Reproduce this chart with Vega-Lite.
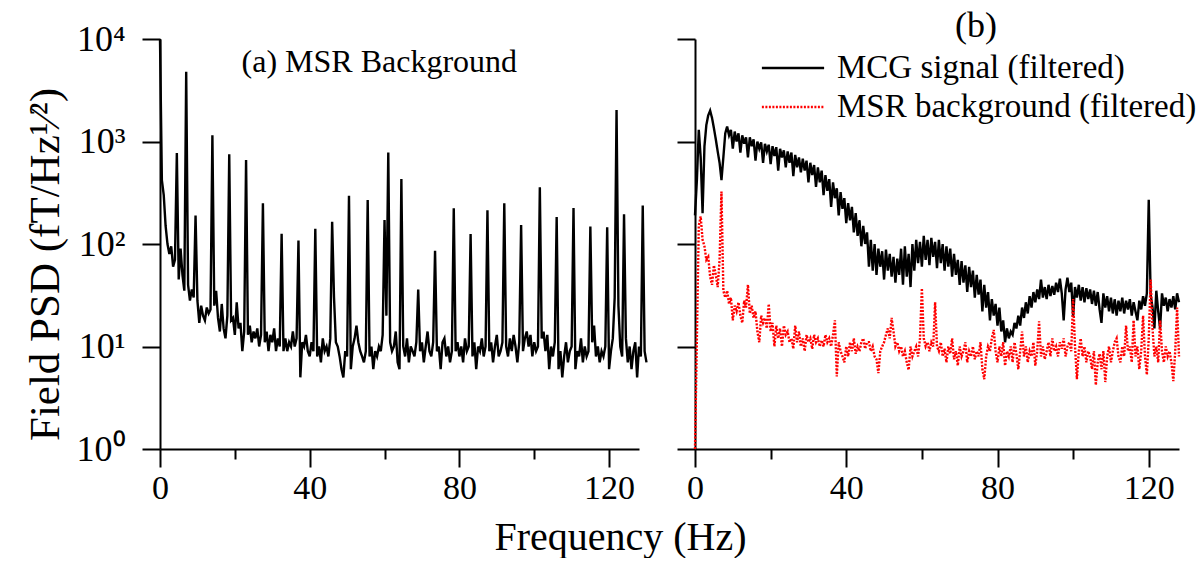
{
  "$schema": "https://vega.github.io/schema/vega-lite/v6.json",
  "background": "white",
  "padding": {"left": 24, "top": 8, "right": 0, "bottom": 0},
  "spacing": 24,
  "config": {
    "view": {"stroke": null},
    "font": "Liberation Serif",
    "axis": {"grid": false, "domainColor": "black", "domainWidth": 2, "tickColor": "black", "tickWidth": 2, "labelColor": "black", "titleColor": "black", "labelFont": "Liberation Serif", "titleFont": "Liberation Serif", "titleFontWeight": "normal", "labelFlush": false, "labelOverlap": false}
  },
  "title": {"text": "Frequency (Hz)", "orient": "bottom", "anchor": "middle", "fontSize": 40, "font": "Liberation Serif", "fontWeight": "normal", "color": "black", "offset": 13, "dx": 10},
  "hconcat": [
    {
      "width": 479,
      "height": 410,
      "layer": [
        {
          "data": {"values": [
            {"hz":0,"psd":10000},{"hz":0.5,"psd":420},{"hz":1,"psd":300},{"hz":1.5,"psd":150},{"hz":2,"psd":100},{"hz":2.5,"psd":80},{"hz":3,"psd":95},{"hz":3.5,"psd":60},{"hz":4,"psd":70},{"hz":4.5,"psd":770},
            {"hz":5,"psd":45},{"hz":5.5,"psd":90},{"hz":6,"psd":50},{"hz":6.5,"psd":35},{"hz":7,"psd":4800},{"hz":7.5,"psd":40},{"hz":8,"psd":28},{"hz":8.5,"psd":36},{"hz":9,"psd":30},{"hz":9.5,"psd":190},
            {"hz":10,"psd":28},{"hz":10.5,"psd":17},{"hz":11,"psd":25},{"hz":11.5,"psd":20},{"hz":12,"psd":18},{"hz":12.5,"psd":24},{"hz":13,"psd":21},{"hz":13.5,"psd":23},{"hz":14,"psd":1150},{"hz":14.5,"psd":25},
            {"hz":15,"psd":35},{"hz":15.5,"psd":19},{"hz":16,"psd":14},{"hz":16.5,"psd":26},{"hz":17,"psd":15},{"hz":17.5,"psd":12},{"hz":18,"psd":20},{"hz":18.5,"psd":750},{"hz":19,"psd":18},{"hz":19.5,"psd":19},
            {"hz":20,"psd":13},{"hz":20.5,"psd":27},{"hz":21,"psd":15},{"hz":21.5,"psd":17},{"hz":22,"psd":9},{"hz":22.5,"psd":14},{"hz":23,"psd":660},{"hz":23.5,"psd":13},{"hz":24,"psd":16},{"hz":24.5,"psd":11},
            {"hz":25,"psd":14},{"hz":25.5,"psd":12},{"hz":26,"psd":15},{"hz":26.5,"psd":10},{"hz":27,"psd":13},{"hz":27.5,"psd":250},{"hz":28,"psd":11},{"hz":28.5,"psd":14},{"hz":29,"psd":9},{"hz":29.5,"psd":13},
            {"hz":30,"psd":11},{"hz":30.5,"psd":15},{"hz":31,"psd":9},{"hz":31.5,"psd":12},{"hz":32,"psd":10},{"hz":32.5,"psd":126},{"hz":33,"psd":9},{"hz":33.5,"psd":12},{"hz":34,"psd":9},{"hz":34.5,"psd":11},
            {"hz":35,"psd":10},{"hz":35.5,"psd":14},{"hz":36,"psd":10},{"hz":36.5,"psd":12},{"hz":37,"psd":108},{"hz":37.5,"psd":5},{"hz":38,"psd":11},{"hz":38.5,"psd":10},{"hz":39,"psd":13},{"hz":39.5,"psd":9},
            {"hz":40,"psd":8},{"hz":40.5,"psd":11},{"hz":41,"psd":9},{"hz":41.5,"psd":141},{"hz":42,"psd":8},{"hz":42.5,"psd":10},{"hz":43,"psd":7},{"hz":43.5,"psd":12},{"hz":44,"psd":9},{"hz":44.5,"psd":10},
            {"hz":45,"psd":8},{"hz":45.5,"psd":12},{"hz":46,"psd":165},{"hz":46.5,"psd":30},{"hz":47,"psd":11},{"hz":47.5,"psd":10},{"hz":48,"psd":8},{"hz":48.5,"psd":6},{"hz":49,"psd":5},{"hz":49.5,"psd":9},
            {"hz":50,"psd":8},{"hz":50.5,"psd":295},{"hz":51,"psd":6},{"hz":51.5,"psd":10},{"hz":52,"psd":12},{"hz":52.5,"psd":16},{"hz":53,"psd":11},{"hz":53.5,"psd":9},{"hz":54,"psd":8},{"hz":54.5,"psd":7},
            {"hz":55,"psd":9},{"hz":55.5,"psd":268},{"hz":56,"psd":8},{"hz":56.5,"psd":10},{"hz":57,"psd":6},{"hz":57.5,"psd":9},{"hz":58,"psd":8},{"hz":58.5,"psd":10},{"hz":59,"psd":9},{"hz":59.5,"psd":13},
            {"hz":60,"psd":171},{"hz":60.5,"psd":20},{"hz":61,"psd":780},{"hz":61.5,"psd":11},{"hz":62,"psd":9},{"hz":62.5,"psd":10},{"hz":63,"psd":14},{"hz":63.5,"psd":7},{"hz":64,"psd":6},{"hz":64.5,"psd":430},
            {"hz":65,"psd":10},{"hz":65.5,"psd":8},{"hz":66,"psd":12},{"hz":66.5,"psd":7},{"hz":67,"psd":10},{"hz":67.5,"psd":9},{"hz":68,"psd":8},{"hz":68.5,"psd":11},{"hz":69,"psd":36},{"hz":69.5,"psd":9},
            {"hz":70,"psd":11},{"hz":70.5,"psd":7},{"hz":71,"psd":10},{"hz":71.5,"psd":14},{"hz":72,"psd":9},{"hz":72.5,"psd":8},{"hz":73,"psd":11},{"hz":73.5,"psd":86},{"hz":74,"psd":9},{"hz":74.5,"psd":10},
            {"hz":75,"psd":6},{"hz":75.5,"psd":11},{"hz":76,"psd":12},{"hz":76.5,"psd":8},{"hz":77,"psd":10},{"hz":77.5,"psd":7},{"hz":78,"psd":9},{"hz":78.5,"psd":223},{"hz":79,"psd":9},{"hz":79.5,"psd":11},
            {"hz":80,"psd":8},{"hz":80.5,"psd":10},{"hz":81,"psd":7},{"hz":81.5,"psd":12},{"hz":82,"psd":9},{"hz":82.5,"psd":10},{"hz":83,"psd":125},{"hz":83.5,"psd":8},{"hz":84,"psd":11},{"hz":84.5,"psd":6},
            {"hz":85,"psd":10},{"hz":85.5,"psd":9},{"hz":86,"psd":12},{"hz":86.5,"psd":8},{"hz":87,"psd":10},{"hz":87.5,"psd":213},{"hz":88,"psd":9},{"hz":88.5,"psd":11},{"hz":89,"psd":7},{"hz":89.5,"psd":10},
            {"hz":90,"psd":13},{"hz":90.5,"psd":8},{"hz":91,"psd":9},{"hz":91.5,"psd":11},{"hz":92,"psd":250},{"hz":92.5,"psd":10},{"hz":93,"psd":8},{"hz":93.5,"psd":12},{"hz":94,"psd":9},{"hz":94.5,"psd":13},
            {"hz":95,"psd":10},{"hz":95.5,"psd":7},{"hz":96,"psd":11},{"hz":96.5,"psd":153},{"hz":97,"psd":9},{"hz":97.5,"psd":12},{"hz":98,"psd":14},{"hz":98.5,"psd":10},{"hz":99,"psd":13},{"hz":99.5,"psd":8},
            {"hz":100,"psd":11},{"hz":100.5,"psd":9},{"hz":101,"psd":10},{"hz":101.5,"psd":357},{"hz":102,"psd":12},{"hz":102.5,"psd":14},{"hz":103,"psd":9},{"hz":103.5,"psd":13},{"hz":104,"psd":6},{"hz":104.5,"psd":10},
            {"hz":105,"psd":8},{"hz":105.5,"psd":11},{"hz":106,"psd":183},{"hz":106.5,"psd":6},{"hz":107,"psd":9},{"hz":107.5,"psd":5},{"hz":108,"psd":8},{"hz":108.5,"psd":11},{"hz":109,"psd":7},{"hz":109.5,"psd":9},
            {"hz":110,"psd":10},{"hz":110.5,"psd":224},{"hz":111,"psd":6},{"hz":111.5,"psd":9},{"hz":112,"psd":8},{"hz":112.5,"psd":12},{"hz":113,"psd":7},{"hz":113.5,"psd":10},{"hz":114,"psd":8},{"hz":114.5,"psd":9},
            {"hz":115,"psd":148},{"hz":115.5,"psd":11},{"hz":116,"psd":16},{"hz":116.5,"psd":8},{"hz":117,"psd":10},{"hz":117.5,"psd":7},{"hz":118,"psd":9},{"hz":118.5,"psd":8},{"hz":119,"psd":10},{"hz":119.5,"psd":146},
            {"hz":120,"psd":6},{"hz":120.5,"psd":9},{"hz":121,"psd":12},{"hz":121.5,"psd":30},{"hz":122,"psd":2030},{"hz":122.5,"psd":25},{"hz":123,"psd":10},{"hz":123.5,"psd":8},{"hz":124,"psd":195},{"hz":124.5,"psd":12},
            {"hz":125,"psd":7},{"hz":125.5,"psd":10},{"hz":126,"psd":6},{"hz":126.5,"psd":9},{"hz":127,"psd":11},{"hz":127.5,"psd":5},{"hz":128,"psd":10},{"hz":128.5,"psd":8},{"hz":129,"psd":237},{"hz":129.5,"psd":9},
            {"hz":130,"psd":7}
          ]},
          "mark": {"type": "line", "color": "black", "strokeWidth": 2.4, "clip": false},
          "encoding": {
            "x": {"field": "hz", "type": "quantitative", "scale": {"domain": [0, 128], "nice": false, "zero": false},
              "axis": {"title": null, "values": [0, 20, 40, 60, 80, 100, 120], "labelExpr": "datum.value % 40 === 0 ? datum.label : ''", "tickSize": {"condition": {"test": "datum.value % 40 === 0", "value": 18}, "value": 10}, "labelFontSize": 34, "labelPadding": 4}},
            "y": {"field": "psd", "type": "quantitative", "scale": {"type": "log", "domain": [1, 10000], "nice": false},
              "axis": {"title": "Field PSD (fT/Hz¹⁄²)", "values": [1, 10, 100, 1000, 10000], "labelExpr": "datum.value >= 10000 ? '10⁴' : datum.value >= 1000 ? '10³' : datum.value >= 100 ? '10²' : datum.value >= 10 ? '10¹' : '10⁰'", "tickSize": 18, "labelFontSize": 36, "labelPadding": 17, "titleFontSize": 43, "titlePadding": 9, "titleY": 225}}
          }
        },
        {
          "data": {"values": [{}]},
          "mark": {"type": "text", "text": "(a) MSR Background", "align": "left", "baseline": "alphabetic", "fontSize": 32, "font": "Liberation Serif", "color": "black"},
          "encoding": {"x": {"datum": 21.8}, "y": {"datum": 4764}}
        }
      ]
    },
    {
      "width": 484,
      "height": 410,
      "layer": [
        {
          "data": {"values": [
            {"hz":0,"mcg":190,"msr":1},{"hz":0.5,"mcg":420,"msr":12},{"hz":1,"mcg":1300,"msr":150},{"hz":1.5,"mcg":700,"msr":186},{"hz":2,"mcg":200,"msr":110},{"hz":2.5,"mcg":900,"msr":95},{"hz":3,"mcg":1450,"msr":70},{"hz":3.5,"mcg":1800,"msr":75},{"hz":4,"mcg":2000,"msr":48},{"hz":4.5,"mcg":1700,"msr":40},
            {"hz":5,"mcg":1350,"msr":62},{"hz":5.5,"mcg":1050,"msr":50},{"hz":6,"mcg":800,"msr":38},{"hz":6.5,"mcg":620,"msr":70},{"hz":7,"mcg":420,"msr":325},{"hz":7.5,"mcg":700,"msr":35},{"hz":8,"mcg":1200,"msr":30},{"hz":8.5,"mcg":1400,"msr":35},{"hz":9,"mcg":1150,"msr":26},{"hz":9.5,"mcg":1300,"msr":30},
            {"hz":10,"mcg":850,"msr":18},{"hz":10.5,"mcg":1250,"msr":25},{"hz":11,"mcg":1000,"msr":22},{"hz":11.5,"mcg":1200,"msr":27},{"hz":12,"mcg":780,"msr":20},{"hz":12.5,"mcg":1150,"msr":17},{"hz":13,"mcg":950,"msr":28},{"hz":13.5,"mcg":1100,"msr":24},{"hz":14,"mcg":700,"msr":40},{"hz":14.5,"mcg":1100,"msr":21},
            {"hz":15,"mcg":900,"msr":25},{"hz":15.5,"mcg":1050,"msr":19},{"hz":16,"mcg":650,"msr":22},{"hz":16.5,"mcg":1000,"msr":14},{"hz":17,"mcg":850,"msr":11},{"hz":17.5,"mcg":980,"msr":20},{"hz":18,"mcg":620,"msr":17},{"hz":18.5,"mcg":950,"msr":19},{"hz":19,"mcg":800,"msr":15},{"hz":19.5,"mcg":930,"msr":26},
            {"hz":20,"mcg":600,"msr":14},{"hz":20.5,"mcg":900,"msr":17},{"hz":21,"mcg":720,"msr":10},{"hz":21.5,"mcg":880,"msr":16},{"hz":22,"mcg":520,"msr":12},{"hz":22.5,"mcg":850,"msr":15},{"hz":23,"mcg":700,"msr":10},{"hz":23.5,"mcg":820,"msr":16},{"hz":24,"mcg":560,"msr":13},{"hz":24.5,"mcg":800,"msr":14},
            {"hz":25,"mcg":620,"msr":11},{"hz":25.5,"mcg":780,"msr":12},{"hz":26,"mcg":460,"msr":9.5},{"hz":26.5,"mcg":740,"msr":16},{"hz":27,"mcg":560,"msr":11},{"hz":27.5,"mcg":700,"msr":14},{"hz":28,"mcg":500,"msr":10},{"hz":28.5,"mcg":680,"msr":12},{"hz":29,"mcg":520,"msr":9},{"hz":29.5,"mcg":650,"msr":13},
            {"hz":30,"mcg":400,"msr":11},{"hz":30.5,"mcg":620,"msr":12},{"hz":31,"mcg":470,"msr":9.5},{"hz":31.5,"mcg":590,"msr":13},{"hz":32,"mcg":360,"msr":11},{"hz":32.5,"mcg":560,"msr":12},{"hz":33,"mcg":400,"msr":10},{"hz":33.5,"mcg":520,"msr":11.5},{"hz":34,"mcg":300,"msr":10},{"hz":34.5,"mcg":470,"msr":13},
            {"hz":35,"mcg":330,"msr":11},{"hz":35.5,"mcg":430,"msr":12},{"hz":36,"mcg":230,"msr":10},{"hz":36.5,"mcg":400,"msr":13},{"hz":37,"mcg":280,"msr":18},{"hz":37.5,"mcg":350,"msr":5.1},{"hz":38,"mcg":190,"msr":11},{"hz":38.5,"mcg":320,"msr":9},{"hz":39,"mcg":220,"msr":8},{"hz":39.5,"mcg":280,"msr":7},
            {"hz":40,"mcg":160,"msr":10},{"hz":40.5,"mcg":250,"msr":8},{"hz":41,"mcg":170,"msr":11},{"hz":41.5,"mcg":230,"msr":9},{"hz":42,"mcg":130,"msr":12},{"hz":42.5,"mcg":200,"msr":8.5},{"hz":43,"mcg":120,"msr":10},{"hz":43.5,"mcg":170,"msr":9},{"hz":44,"mcg":95,"msr":11},{"hz":44.5,"mcg":150,"msr":12},
            {"hz":45,"mcg":100,"msr":9.5},{"hz":45.5,"mcg":130,"msr":11},{"hz":46,"mcg":60,"msr":11},{"hz":46.5,"mcg":110,"msr":9},{"hz":47,"mcg":55,"msr":10},{"hz":47.5,"mcg":100,"msr":8},{"hz":48,"mcg":50,"msr":7.5},{"hz":48.5,"mcg":90,"msr":5.5},{"hz":49,"mcg":60,"msr":9},{"hz":49.5,"mcg":85,"msr":10},
            {"hz":50,"mcg":45,"msr":11},{"hz":50.5,"mcg":88,"msr":13},{"hz":51,"mcg":55,"msr":15},{"hz":51.5,"mcg":80,"msr":12},{"hz":52,"mcg":48,"msr":19},{"hz":52.5,"mcg":75,"msr":14},{"hz":53,"mcg":42,"msr":10},{"hz":53.5,"mcg":72,"msr":11},{"hz":54,"mcg":50,"msr":9},{"hz":54.5,"mcg":90,"msr":10},
            {"hz":55,"mcg":40,"msr":8},{"hz":55.5,"mcg":95,"msr":9},{"hz":56,"mcg":48,"msr":7},{"hz":56.5,"mcg":80,"msr":5.9},{"hz":57,"mcg":38,"msr":10},{"hz":57.5,"mcg":100,"msr":8},{"hz":58,"mcg":55,"msr":9},{"hz":58.5,"mcg":110,"msr":10},{"hz":59,"mcg":65,"msr":8},{"hz":59.5,"mcg":105,"msr":12},
            {"hz":60,"mcg":60,"msr":37},{"hz":60.5,"mcg":120,"msr":12},{"hz":61,"mcg":70,"msr":10},{"hz":61.5,"mcg":110,"msr":11},{"hz":62,"mcg":62,"msr":9},{"hz":62.5,"mcg":115,"msr":11},{"hz":63,"mcg":75,"msr":10},{"hz":63.5,"mcg":105,"msr":27},{"hz":64,"mcg":58,"msr":10},{"hz":64.5,"mcg":110,"msr":9},
            {"hz":65,"mcg":65,"msr":11},{"hz":65.5,"mcg":100,"msr":8},{"hz":66,"mcg":55,"msr":9.5},{"hz":66.5,"mcg":95,"msr":7},{"hz":67,"mcg":60,"msr":10},{"hz":67.5,"mcg":90,"msr":8.5},{"hz":68,"mcg":48,"msr":12},{"hz":68.5,"mcg":80,"msr":7.5},{"hz":69,"mcg":50,"msr":9},{"hz":69.5,"mcg":70,"msr":6.5},
            {"hz":70,"mcg":40,"msr":10},{"hz":70.5,"mcg":68,"msr":8},{"hz":71,"mcg":42,"msr":9},{"hz":71.5,"mcg":62,"msr":11},{"hz":72,"mcg":34,"msr":7},{"hz":72.5,"mcg":60,"msr":9},{"hz":73,"mcg":38,"msr":8},{"hz":73.5,"mcg":55,"msr":10},{"hz":74,"mcg":30,"msr":7.5},{"hz":74.5,"mcg":50,"msr":9},
            {"hz":75,"mcg":32,"msr":8},{"hz":75.5,"mcg":45,"msr":11},{"hz":76,"mcg":22,"msr":6},{"hz":76.5,"mcg":40,"msr":4.8},{"hz":77,"mcg":24,"msr":8},{"hz":77.5,"mcg":34,"msr":10},{"hz":78,"mcg":18,"msr":9},{"hz":78.5,"mcg":29,"msr":12},{"hz":79,"mcg":20,"msr":14.5},{"hz":79.5,"mcg":26,"msr":9},
            {"hz":80,"mcg":16,"msr":7},{"hz":80.5,"mcg":24,"msr":10},{"hz":81,"mcg":14,"msr":8},{"hz":81.5,"mcg":18,"msr":11},{"hz":82,"mcg":11,"msr":6.5},{"hz":82.5,"mcg":15,"msr":9},{"hz":83,"mcg":12,"msr":8},{"hz":83.5,"mcg":14,"msr":10},{"hz":84,"mcg":13,"msr":7},{"hz":84.5,"mcg":17,"msr":11},
            {"hz":85,"mcg":15,"msr":8.5},{"hz":85.5,"mcg":20,"msr":6},{"hz":86,"mcg":16,"msr":9},{"hz":86.5,"mcg":24,"msr":14},{"hz":87,"mcg":19,"msr":8},{"hz":87.5,"mcg":27,"msr":10},{"hz":88,"mcg":21,"msr":7},{"hz":88.5,"mcg":31,"msr":9},{"hz":89,"mcg":24,"msr":8},{"hz":89.5,"mcg":34,"msr":11},
            {"hz":90,"mcg":27,"msr":6.5},{"hz":90.5,"mcg":36,"msr":9},{"hz":91,"mcg":29,"msr":17.6},{"hz":91.5,"mcg":45,"msr":8},{"hz":92,"mcg":30,"msr":10},{"hz":92.5,"mcg":38,"msr":7.5},{"hz":93,"mcg":29,"msr":9},{"hz":93.5,"mcg":40,"msr":11},{"hz":94,"mcg":31,"msr":8},{"hz":94.5,"mcg":39,"msr":12},
            {"hz":95,"mcg":32,"msr":9},{"hz":95.5,"mcg":42,"msr":10},{"hz":96,"mcg":34,"msr":8},{"hz":96.5,"mcg":46,"msr":11},{"hz":97,"mcg":33,"msr":9.5},{"hz":97.5,"mcg":18,"msr":12},{"hz":98,"mcg":36,"msr":8},{"hz":98.5,"mcg":47,"msr":10},{"hz":99,"mcg":34,"msr":11},{"hz":99.5,"mcg":42,"msr":9},
            {"hz":100,"mcg":19.6,"msr":29},{"hz":100.5,"mcg":38,"msr":10},{"hz":101,"mcg":30,"msr":4.8},{"hz":101.5,"mcg":40,"msr":9},{"hz":102,"mcg":28,"msr":12},{"hz":102.5,"mcg":38,"msr":8},{"hz":103,"mcg":27,"msr":10},{"hz":103.5,"mcg":37,"msr":7},{"hz":104,"mcg":29,"msr":9},{"hz":104.5,"mcg":36,"msr":8},
            {"hz":105,"mcg":26,"msr":6},{"hz":105.5,"mcg":35,"msr":9},{"hz":106,"mcg":25,"msr":4.2},{"hz":106.5,"mcg":34,"msr":7},{"hz":107,"mcg":23,"msr":8.5},{"hz":107.5,"mcg":17,"msr":6},{"hz":108,"mcg":33,"msr":9},{"hz":108.5,"mcg":24,"msr":4.5},{"hz":109,"mcg":31,"msr":8},{"hz":109.5,"mcg":22,"msr":10},
            {"hz":110,"mcg":30,"msr":7},{"hz":110.5,"mcg":21,"msr":9},{"hz":111,"mcg":29,"msr":11},{"hz":111.5,"mcg":20,"msr":12},{"hz":112,"mcg":28,"msr":8},{"hz":112.5,"mcg":22,"msr":7},{"hz":113,"mcg":30,"msr":10},{"hz":113.5,"mcg":21,"msr":8},{"hz":114,"mcg":28,"msr":16},{"hz":114.5,"mcg":23,"msr":9},
            {"hz":115,"mcg":29,"msr":10},{"hz":115.5,"mcg":20,"msr":7},{"hz":116,"mcg":27,"msr":18},{"hz":116.5,"mcg":22,"msr":8},{"hz":117,"mcg":18,"msr":10},{"hz":117.5,"mcg":28,"msr":6},{"hz":118,"mcg":23,"msr":9},{"hz":118.5,"mcg":31,"msr":20},{"hz":119,"mcg":25,"msr":8},{"hz":119.5,"mcg":33,"msr":5.3},
            {"hz":120,"mcg":270,"msr":12},{"hz":120.5,"mcg":32,"msr":45},{"hz":121,"mcg":24,"msr":15},{"hz":121.5,"mcg":15,"msr":8},{"hz":122,"mcg":35,"msr":10},{"hz":122.5,"mcg":22,"msr":7},{"hz":123,"mcg":15,"msr":18},{"hz":123.5,"mcg":33,"msr":9},{"hz":124,"mcg":25,"msr":7},{"hz":124.5,"mcg":30,"msr":10},
            {"hz":125,"mcg":22,"msr":8},{"hz":125.5,"mcg":29,"msr":9},{"hz":126,"mcg":24,"msr":7},{"hz":126.5,"mcg":31,"msr":4.6},{"hz":127,"mcg":23,"msr":9},{"hz":127.5,"mcg":33,"msr":24},{"hz":128,"mcg":27,"msr":8}
          ]},
          "transform": [{"fold": ["mcg", "msr"], "as": ["series", "psd"]}],
          "mark": {"type": "line", "strokeWidth": 2.4, "clip": false},
          "encoding": {
            "x": {"field": "hz", "type": "quantitative", "scale": {"domain": [0, 128], "nice": false, "zero": false},
              "axis": {"title": null, "values": [0, 20, 40, 60, 80, 100, 120], "labelExpr": "datum.value % 40 === 0 ? datum.label : ''", "tickSize": {"condition": {"test": "datum.value % 40 === 0", "value": 18}, "value": 10}, "labelFontSize": 34, "labelPadding": 4}},
            "y": {"field": "psd", "type": "quantitative", "scale": {"type": "log", "domain": [1, 10000], "nice": false},
              "axis": {"title": null, "labels": false, "values": [1, 10, 100, 1000, 10000], "tickSize": 18}},
            "color": {"field": "series", "type": "nominal", "scale": {"domain": ["mcg", "msr"], "range": ["#000000", "#ff0000"]},
              "legend": {"title": null, "orient": "none", "legendX": 613, "legendY": 9, "symbolType": "M-1.7,0H1.7", "symbolSize": 1340, "symbolStrokeWidth": 2.5, "labelFontSize": 33, "labelFont": "Liberation Serif", "labelColor": "black", "labelLimit": 500, "labelOffset": 24, "rowPadding": 2, "padding": 0, "labelExpr": "datum.value === 'mcg' ? 'MCG signal (filtered)' : 'MSR background (filtered)'"}},
            "strokeDash": {"field": "series", "type": "nominal", "scale": {"domain": ["mcg", "msr"], "range": [[1, 0], [2, 1.5]]},
              "legend": {"title": null, "orient": "none", "legendX": 613, "legendY": 9, "symbolType": "M-1.7,0H1.7", "symbolSize": 1340, "symbolStrokeWidth": 2.5, "labelFontSize": 33, "labelFont": "Liberation Serif", "labelColor": "black", "labelLimit": 500, "labelOffset": 24, "rowPadding": 2, "padding": 0, "labelExpr": "datum.value === 'mcg' ? 'MCG signal (filtered)' : 'MSR background (filtered)'"}}
          }
        },
        {
          "data": {"values": [{}]},
          "mark": {"type": "text", "text": "(b)", "align": "center", "baseline": "alphabetic", "fontSize": 36, "dy": -2, "font": "Liberation Serif", "color": "black"},
          "encoding": {"x": {"datum": 74.3}, "y": {"datum": 10000}}
        }
      ]
    }
  ]
}
